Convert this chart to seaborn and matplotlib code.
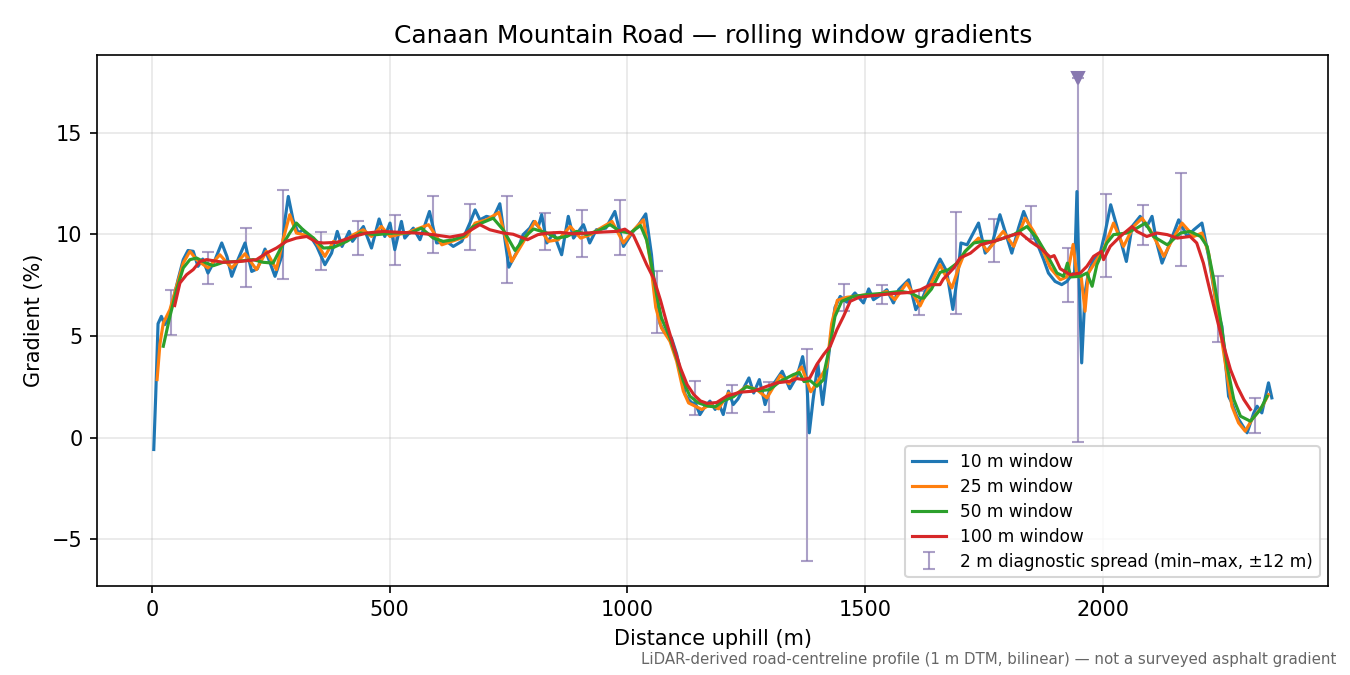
import numpy as np
import matplotlib
matplotlib.use("Agg")
import matplotlib.pyplot as plt
import seaborn as sns

# distance uphill (m) and gradient (%), one pair of lists per window
d10 = [4, 8, 13, 20, 27, 34, 45, 55, 66, 76, 87, 97, 107, 118, 133, 147, 158, 168, 182, 196,
       210, 222, 238, 259, 273, 280, 287, 297, 308, 318, 329, 336, 347, 364, 378, 390, 400, 415,
       422, 445, 462, 478, 490, 501, 511, 525, 532, 550, 564, 584, 599, 620, 634, 652, 669, 680,
       690, 704, 718, 732, 751, 767, 781, 795, 803, 813, 820, 831, 845, 862, 876, 887, 908, 921,
       935, 955, 974, 992, 1010, 1025, 1039, 1051, 1058, 1062, 1069, 1079, 1093, 1104, 1115,
       1122, 1129, 1136, 1143, 1153, 1164, 1174, 1185, 1192, 1202, 1213, 1223, 1233, 1256, 1266,
       1278, 1290, 1300, 1326, 1342, 1357, 1369, 1378, 1383, 1391, 1401, 1411, 1427, 1437, 1448,
       1462, 1479, 1497, 1508, 1518, 1532, 1546, 1560, 1571, 1592, 1607, 1622, 1637, 1658, 1672,
       1685, 1697, 1702, 1715, 1739, 1753, 1767, 1784, 1809, 1823, 1834, 1848, 1862, 1876, 1886,
       1900, 1914, 1925, 1935, 1941, 1946, 1951, 1956, 1963, 1970, 1981, 1995, 2005, 2017, 2030,
       2050, 2062, 2079, 2093, 2104, 2114, 2125, 2139, 2160, 2178, 2192, 2209, 2223, 2241, 2251,
       2258, 2265, 2272, 2282, 2304, 2318, 2325, 2335, 2349, 2356]
g10 = [-0.59, 2.0, 5.6, 5.96, 5.55, 5.8, 6.78, 7.76, 8.75, 9.2, 9.16, 8.42, 8.78, 8.09, 8.75,
       9.57, 8.9, 7.93, 8.8, 9.57, 8.17, 8.3, 9.27, 7.93, 8.91, 10.7, 11.86, 10.71, 10.06, 10.22,
       9.89, 9.81, 9.4, 8.5, 9.07, 10.14, 9.4, 10.14, 9.65, 10.38, 9.32, 10.75, 9.89, 10.55,
       9.24, 10.63, 9.81, 10.3, 9.73, 11.12, 9.57, 9.65, 9.4, 9.65, 10.55, 11.2, 10.71, 10.88,
       10.79, 11.5, 8.38, 9.1, 9.98, 10.3, 10.63, 10.38, 10.96, 9.57, 10.06, 8.99, 10.88, 9.81,
       10.47, 9.57, 10.22, 10.3, 11.12, 9.4, 10.06, 10.5, 11.0, 9.0, 7.3, 6.7, 5.6, 5.14, 4.9,
       4.1, 2.93, 2.11, 1.87, 1.7, 1.7, 1.13, 1.54, 1.79, 1.38, 1.7, 1.13, 2.28, 1.62, 1.9, 2.93,
       2.19, 2.85, 1.62, 2.36, 3.26, 2.4, 3.01, 3.98, 2.69, 0.23, 1.87, 3.63, 1.62, 4.65, 6.4,
       6.94, 6.66, 7.11, 6.62, 7.31, 6.78, 7.0, 7.27, 6.62, 7.27, 7.76, 6.29, 6.9, 7.76, 8.78,
       8.17, 6.3, 8.34, 9.57, 9.48, 10.55, 9.07, 9.48, 10.96, 9.07, 10.3, 11.12, 10.3, 9.57, 8.75,
       8.09, 7.68, 7.52, 7.68, 8.01, 8.1, 12.1, 7.5, 3.67, 7.11, 8.09, 8.75, 9.07, 10.06, 11.45,
       10.38, 8.66, 10.38, 10.88, 10.38, 10.88, 9.57, 8.58, 9.4, 10.71, 9.89, 10.22, 10.55, 8.91,
       6.29, 5.47, 3.83, 2.03, 1.7, 1.05, 0.23, 1.21, 1.54, 1.21, 2.69, 1.95]

d25 = [11, 17, 24, 38, 52, 66, 80, 94, 118, 143, 168, 196, 220, 241, 262, 276, 290, 304, 318,
       340, 364, 382, 396, 424, 445, 462, 483, 501, 540, 582, 610, 641, 662, 680, 704, 730, 757,
       781, 806, 834, 855, 880, 902, 923, 944, 968, 992, 1014, 1034, 1049, 1060, 1072, 1090,
       1104, 1118, 1129, 1143, 1157, 1174, 1192, 1213, 1223, 1251, 1272, 1294, 1322, 1340, 1367,
       1386, 1399, 1410, 1420, 1430, 1442, 1462, 1477, 1505, 1525, 1546, 1563, 1588, 1616, 1637,
       1658, 1672, 1683, 1697, 1711, 1739, 1757, 1791, 1813, 1837, 1855, 1869, 1890, 1911, 1925,
       1938, 1946, 1955, 1963, 1970, 1988, 2002, 2023, 2044, 2065, 2083, 2100, 2129, 2143, 2167,
       2192, 2209, 2223, 2241, 2259, 2272, 2286, 2300, 2314, 2336, 2349]
g25 = [2.85, 4.6, 5.63, 6.29, 7.44, 8.58, 9.16, 8.75, 8.34, 8.99, 8.34, 9.04, 8.26, 9.16, 8.26,
       9.73, 10.96, 10.06, 9.98, 9.81, 8.91, 9.65, 9.48, 9.98, 10.22, 9.89, 10.38, 9.89, 10.1,
       10.47, 9.48, 9.73, 9.89, 10.55, 10.71, 11.07, 8.66, 9.6, 10.63, 9.65, 9.73, 10.38, 9.81,
       9.98, 10.3, 10.63, 9.57, 10.22, 10.71, 8.6, 6.4, 5.39, 4.73, 3.75, 2.28, 1.7, 1.54, 1.38,
       1.62, 1.41, 2.19, 2.03, 2.52, 2.36, 1.95, 3.05, 2.65, 3.47, 2.25, 2.69, 3.1, 3.5, 5.6,
       6.75, 6.9, 6.94, 7.03, 7.0, 7.19, 6.78, 7.6, 6.47, 7.48, 8.5, 7.85, 7.36, 8.34, 9.16, 9.81,
       9.16, 10.14, 9.4, 10.79, 10.14, 9.48, 8.34, 7.76, 7.9, 9.5, 7.93, 7.9, 6.21, 8.09, 8.75,
       9.24, 10.55, 9.4, 10.38, 10.79, 10.22, 8.91, 9.57, 10.55, 9.89, 10.06, 9.07, 6.29, 3.51,
       1.54, 0.72, 0.31, 0.88, 1.54, 2.11]

d50 = [24, 38, 52, 66, 80, 94, 115, 129, 150, 178, 213, 234, 255, 273, 290, 304, 318, 340, 361,
       382, 410, 438, 473, 508, 543, 567, 592, 613, 634, 655, 676, 718, 739, 764, 788, 803, 831,
       852, 873, 894, 915, 943, 964, 985, 1006, 1028, 1041, 1051, 1062, 1072, 1090, 1104, 1118,
       1132, 1150, 1171, 1185, 1202, 1223, 1251, 1279, 1300, 1322, 1350, 1362, 1372, 1385, 1399,
       1413, 1416, 1427, 1437, 1451, 1476, 1505, 1546, 1575, 1596, 1617, 1624, 1640, 1658, 1676,
       1694, 1711, 1729, 1750, 1771, 1792, 1813, 1841, 1862, 1883, 1904, 1918, 1926, 1933, 1953,
       1967, 1978, 1988, 2009, 2023, 2051, 2072, 2090, 2107, 2136, 2164, 2184, 2206, 2220, 2234,
       2248, 2262, 2276, 2290, 2311, 2332, 2346]
g50 = [4.49, 5.96, 7.27, 8.34, 8.75, 8.83, 8.58, 8.45, 8.62, 8.66, 8.75, 8.62, 8.58, 9.4, 10.06,
       10.55, 10.22, 9.81, 9.32, 9.35, 9.65, 10.06, 9.98, 10.06, 10.06, 10.3, 9.81, 9.65, 9.73,
       9.89, 10.38, 10.79, 10.22, 9.2, 9.95, 10.26, 10.06, 9.81, 9.89, 10.14, 9.98, 10.22, 10.47,
       10.14, 10.06, 10.43, 9.7, 8.5, 7.0, 5.88, 4.9, 3.91, 2.77, 2.03, 1.7, 1.54, 1.51, 1.8, 2.0,
       2.5, 2.3, 2.36, 2.77, 3.1, 3.2, 2.75, 2.8, 2.52, 2.85, 3.4, 4.6, 5.95, 6.7, 6.94, 7.03,
       7.11, 7.19, 7.11, 6.86, 6.86, 7.3, 8.12, 8.26, 8.58, 9.16, 9.57, 9.65, 9.65, 9.81, 9.98,
       10.38, 9.81, 8.99, 8.09, 7.93, 8.58, 7.9, 7.93, 8.09, 7.44, 8.5, 9.57, 9.98, 10.06, 10.3,
       10.55, 9.89, 9.48, 10.06, 10.14, 9.89, 9.4, 7.76, 5.8, 3.51, 1.87, 1.05, 0.8, 1.38, 2.03]

d100 = [48, 59, 73, 87, 101, 115, 150, 185, 220, 241, 262, 283, 304, 326, 347, 361, 389, 424,
        452, 487, 522, 557, 592, 627, 655, 690, 711, 739, 760, 790, 812, 834, 859, 887, 915, 950,
        978, 995, 1013, 1027, 1041, 1056, 1070, 1084, 1098, 1112, 1126, 1140, 1154, 1168, 1188,
        1209, 1237, 1266, 1294, 1315, 1343, 1357, 1371, 1384, 1399, 1413, 1427, 1441, 1455, 1469,
        1488, 1525, 1560, 1596, 1617, 1638, 1658, 1665, 1677, 1687, 1700, 1722, 1743, 1771, 1792,
        1813, 1827, 1848, 1869, 1890, 1898, 1904, 1911, 1932, 1953, 1967, 1981, 1998, 2002, 2016,
        2037, 2062, 2072, 2093, 2114, 2136, 2157, 2184, 2198, 2212, 2227, 2241, 2255, 2269, 2283,
        2297, 2311]
g100 = [6.49, 7.6, 8.01, 8.26, 8.66, 8.75, 8.62, 8.66, 8.75, 9.07, 9.32, 9.65, 9.81, 9.89, 9.6,
        9.57, 9.6, 9.89, 10.06, 10.14, 10.09, 10.06, 9.98, 9.86, 9.98, 10.47, 10.22, 10.06, 10.0,
        9.73, 9.98, 10.06, 10.09, 10.02, 10.06, 10.11, 10.14, 10.25, 9.95, 9.24, 8.5, 7.8, 6.75,
        5.55, 4.45, 3.42, 2.6, 2.11, 1.8, 1.68, 1.72, 2.03, 2.23, 2.28, 2.52, 2.69, 2.77, 2.9,
        2.85, 2.93, 3.6, 4.08, 4.49, 5.3, 5.96, 6.7, 6.9, 7.0, 7.08, 7.14, 7.27, 7.52, 7.52, 7.8,
        8.09, 8.34, 8.83, 9.07, 9.48, 9.65, 9.81, 9.98, 10.06, 9.65, 9.32, 8.87, 8.95, 8.66, 8.3,
        8.01, 8.09, 8.42, 8.91, 9.16, 8.75, 9.4, 9.89, 10.38, 10.14, 9.89, 10.06, 9.98, 9.81, 9.89,
        9.57, 8.58, 7.11, 5.8, 4.49, 3.34, 2.52, 1.87, 1.38]

# 2 m diagnostic spread (min-max within +-12 m)
spread_x = [40, 118, 197, 276, 355, 433, 512, 591, 669, 748, 827, 905, 984, 1063, 1142, 1220,
            1299, 1378, 1457, 1535, 1614, 1692, 1771, 1850, 1928, 1949, 2007, 2086, 2165, 2243, 2321]
spread_lo = [5.06, 7.53, 7.39, 7.80, 8.22, 8.96, 8.47, 9.06, 9.20, 7.58, 9.20, 8.89, 8.96, 5.13,
             1.10, 1.21, 1.24, -6.09, 6.21, 6.58, 6.04, 6.09, 8.62, 9.76, 6.65, -0.23, 7.92, 9.49,
             8.46, 4.68, 0.21]
spread_hi = [7.24, 9.11, 10.33, 12.19, 10.11, 10.66, 10.97, 11.86, 11.47, 11.86, 11.02, 11.17,
             11.66, 8.21, 2.80, 2.60, 2.74, 4.34, 7.53, 7.48, 7.23, 11.11, 10.76, 11.40, 9.33, 17.7,
             11.99, 11.45, 13.02, 7.96, 1.92]
spread_clipped = [False] * 25 + [True] + [False] * 5

fig, ax = plt.subplots(figsize=(9, 4.5), dpi=150)
fig.subplots_adjust(left=0.072, right=0.984, bottom=0.132, top=0.918)

# spread bars behind the lines
lo = np.array(spread_lo)
hi = np.array(spread_hi)
mid = (lo + hi) / 2
ax.errorbar(spread_x, mid, yerr=[mid - lo, hi - mid], fmt='none', ecolor='#8878b0',
            alpha=0.7, elinewidth=1.0, capsize=3, zorder=1,
            label='2 m diagnostic spread (min–max, ±12 m)')
clip = np.array(spread_clipped)
ax.plot(np.array(spread_x)[clip], hi[clip], marker='v', linestyle='none',
        color='#8878b0', markersize=6, zorder=3)

windows = [(d10, g10, '10 m window', 'tab:blue'),
           (d25, g25, '25 m window', 'tab:orange'),
           (d50, g50, '50 m window', 'tab:green'),
           (d100, g100, '100 m window', 'tab:red')]
for d, g, lab, col in windows:
    sns.lineplot(x=d, y=g, ax=ax, color=col, linewidth=1.5, label=lab,
                 estimator=None, zorder=2)

ax.set_xlim(-115, 2475)
ax.set_ylim(-7.3, 18.8)
ax.set_xlabel('Distance uphill (m)')
ax.set_ylabel('Gradient (%)')
ax.set_title('Canaan Mountain Road — rolling window gradients')
ax.grid(True, alpha=0.3)

h, l = ax.get_legend_handles_labels()
order = [l.index(s) for s in ['10 m window', '25 m window', '50 m window', '100 m window',
                              '2 m diagnostic spread (min–max, ±12 m)']]
ax.legend([h[i] for i in order], [l[i] for i in order], loc='lower right', fontsize=8.2,
          labelspacing=0.4)

fig.text(0.99, 0.012, 'LiDAR-derived road-centreline profile (1 m DTM, bilinear) — not a surveyed asphalt gradient',
         ha='right', va='bottom', fontsize=7.2, color='#666666')

fig.savefig('out.png', dpi=150)
